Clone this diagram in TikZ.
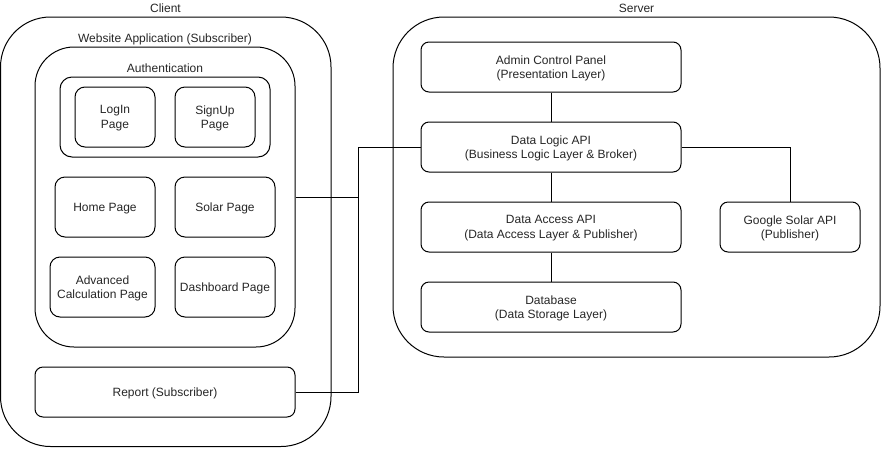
\documentclass[tikz,border=0pt]{standalone}
\usepackage{fontspec}
\setmainfont{Liberation Sans}
\begin{document}
\begin{tikzpicture}[x=1pt,y=-1pt,
  every node/.style={font=\fontsize{12}{14.5}\selectfont, text=black!85},
  box/.style={draw=black, line width=1pt, inner sep=0pt, align=center, text depth=0pt, rounded corners=#1},
  box/.default=8pt,
  lbl/.style={inner sep=0pt, anchor=base},
  wire/.style={draw=black, line width=1pt}
]
\useasboundingbox (0,0) rectangle (881,448);

% Client side
\node[box=50pt, minimum width=330.5pt, minimum height=429.5pt] (client) at (165.75,231.75) {};
\node[lbl] (clientlbl) at (165.5,12) {Client};
\node[box=39pt, minimum width=260pt, minimum height=300pt] (webapp) at (165,197) {};
\node[lbl] (webapplbl) at (165,42) {Website Application (Subscriber)};
\node[box=12pt, minimum width=210pt, minimum height=80pt] (auth) at (165,117) {};
\node[lbl] (authlbl) at (165,72) {Authentication};
\node[box=10pt, minimum width=80pt, minimum height=60pt] (login) at (115,117) {LogIn\\Page};
\node[box=10pt, minimum width=80pt, minimum height=60pt] (signup) at (215,117) {SignUp\\Page};
\node[box=10pt, minimum width=100pt, minimum height=60pt] (home) at (105,207) {Home Page};
\node[box=10pt, minimum width=100pt, minimum height=60pt] (solar) at (225,207) {Solar Page};
\node[box=10pt, minimum width=105pt, minimum height=60pt] (adv) at (102.5,287) {Advanced\\Calculation Page};
\node[box=10pt, minimum width=100pt, minimum height=60pt] (dash) at (225,287) {Dashboard Page};
\node[box=8pt, minimum width=260pt, minimum height=50pt] (report) at (165,392) {Report (Subscriber)};

% Server side
\node[box=51pt, minimum width=487pt, minimum height=340pt] (server) at (636.5,187) {};
\node[lbl] (serverlbl) at (636.5,12) {Server};
\node[box=8pt, minimum width=260pt, minimum height=50pt] (admin) at (551,67) {Admin Control Panel\\(Presentation Layer)};
\node[box=8pt, minimum width=260pt, minimum height=50pt] (logic) at (551,147) {Data Logic API\\(Business Logic Layer \& Broker)};
\node[box=8pt, minimum width=260pt, minimum height=50pt] (access) at (551,227) {Data Access API\\(Data Access Layer \& Publisher)};
\node[box=8pt, minimum width=260pt, minimum height=50pt] (db) at (551,307) {Database\\(Data Storage Layer)};
\node[box=8pt, minimum width=140pt, minimum height=50pt] (google) at (790,227) {Google Solar API\\(Publisher)};

% Connectors
\coordinate (bus) at (358,197);
\draw[wire] (webapp.east) -- (bus) |- (logic.west);
\draw[wire] (report.east) -| (bus);
\draw[wire] (admin) -- (logic);
\draw[wire] (logic) -- (access);
\draw[wire] (access) -- (db);
\draw[wire] (logic.east) -| (google.north);
\end{tikzpicture}
\end{document}
